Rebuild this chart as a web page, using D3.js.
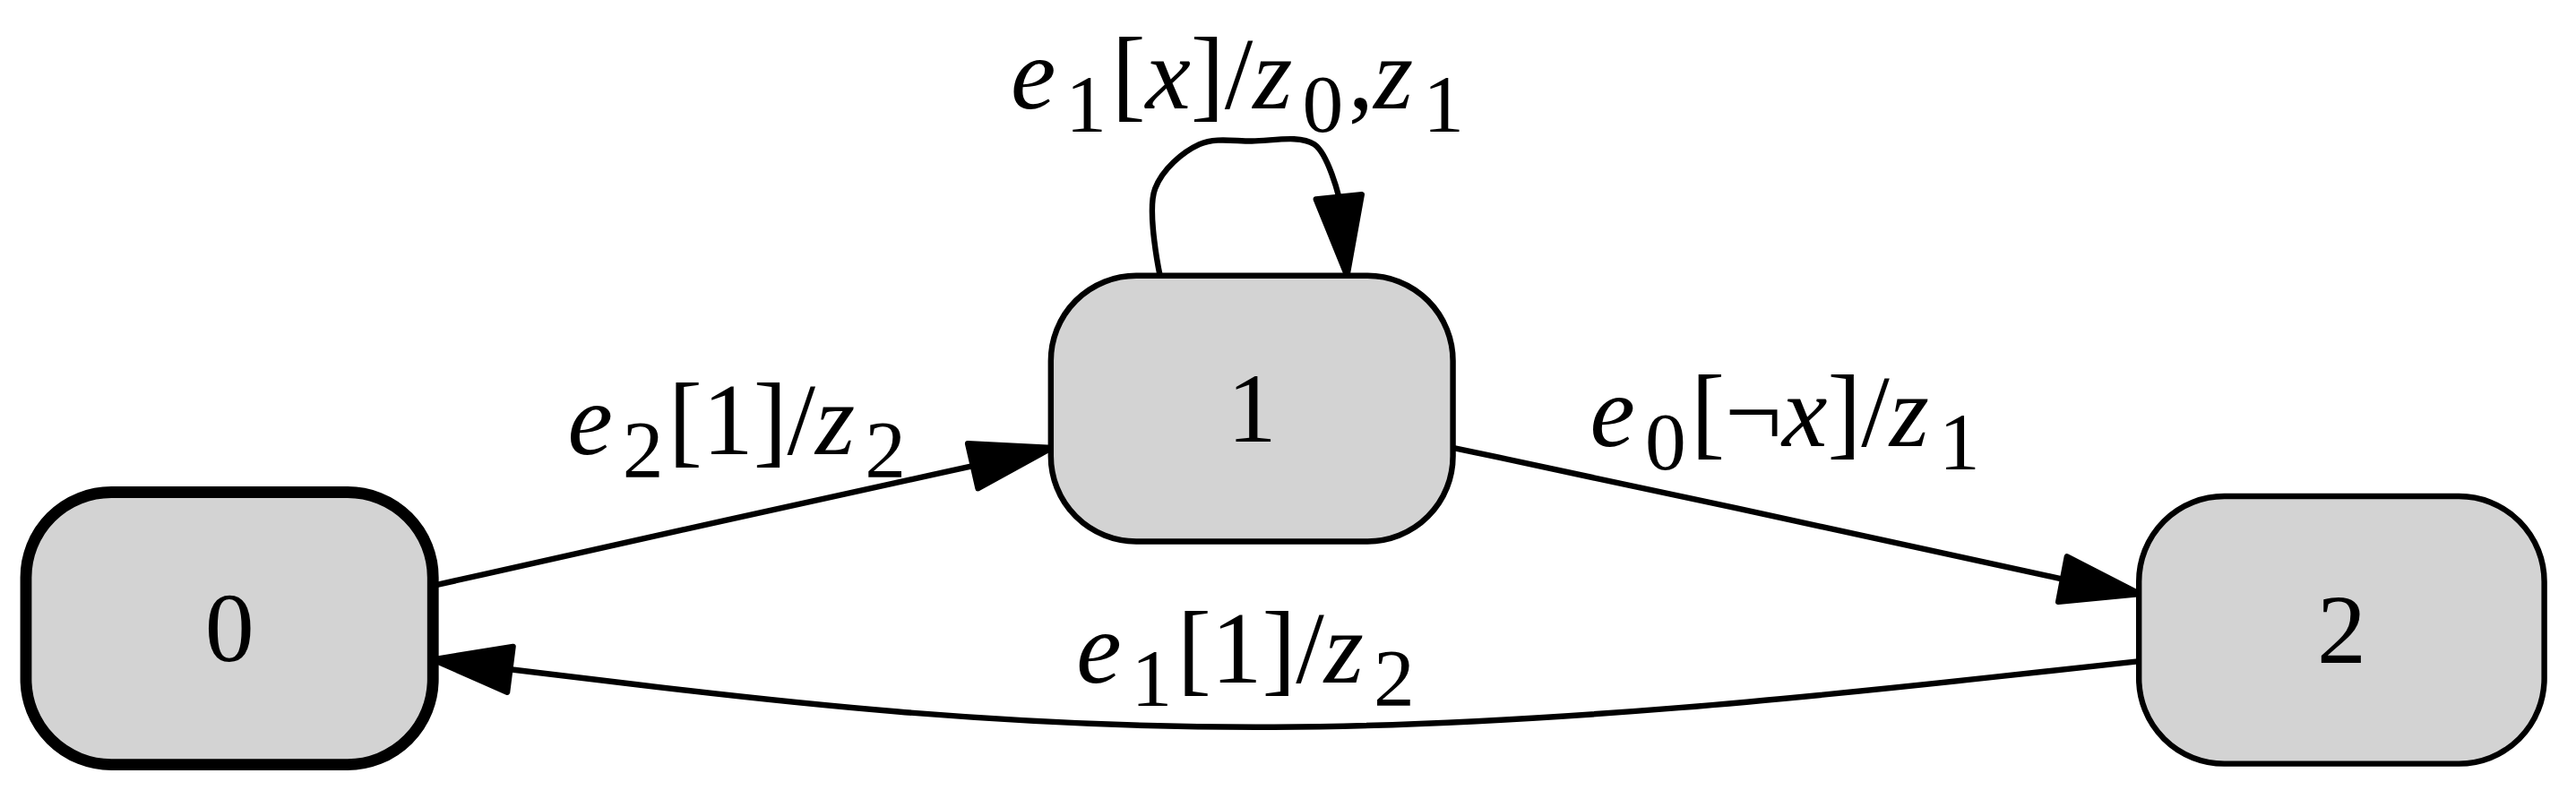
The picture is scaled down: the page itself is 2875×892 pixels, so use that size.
<!DOCTYPE html>
<html><head><meta charset="utf-8">
<script src="https://cdn.jsdelivr.net/npm/d3@7"></script>
<style>body{margin:0;background:#fff}</style></head>
<body><svg id="c"></svg>
<script>
const nodes = [
  {id:"0", cx:139, cy:383, w:248, h:166, bw:7},
  {id:"1", cx:762, cy:249, w:245, h:162, bw:3.5},
  {id:"2", cx:1426, cy:384, w:247, h:163, bw:3.5}
];
const edges = [
  {pts:[[263,357],[450,315],[592,284]], tip:[640,273], curve:"basis"},
  {pts:[[885,273],[1050,308],[1256,353]], tip:[1303,362], curve:"basis"},
  {pts:[[1303,403],[760,462],[310,408]], tip:[263,402], curve:"basis"},
  {pts:[[706,168],[703,115],[730,88],[762,86],[800,88],[815,120]], tip:[820,168], curve:"cr"}
];
const labels = [
  {x:345, y:277, parts:[["e",1,0],["2",0,1],["[1]/",0,0],["z",1,0],["2",0,1]]},
  {x:968, y:272, parts:[["e",1,0],["0",0,1],["[¬",0,0],["x",1,0],["]/",0,0],["z",1,0],["1",0,1]]},
  {x:655, y:416, parts:[["e",1,0],["1",0,1],["[1]/",0,0],["z",1,0],["2",0,1]]},
  {x:615, y:66, parts:[["e",1,0],["1",0,1],["[",0,0],["x",1,0],["]/",0,0],["z",1,0],["0",0,1],[",",0,0],["z",1,0],["1",0,1]]}
];
const FONT="'Liberation Serif', 'Times New Roman', serif";
const W=2875,H=892,VW=1568,VH=487;
const svg=d3.select("#c").attr("width",W).attr("height",H).attr("viewBox",`0 0 ${VW} ${VH}`);
const g=svg.append("g");
edges.forEach(e=>{
  const line=d3.line().curve(e.curve==="cr"?d3.curveCatmullRom:d3.curveBasis);
  g.append("path").attr("d",line(e.pts)).attr("fill","none").attr("stroke","#000").attr("stroke-width",3.5);
  const base=e.pts[e.pts.length-1], t=e.tip;
  const dx=t[0]-base[0], dy=t[1]-base[1], L=Math.hypot(dx,dy);
  const nx=-dy/L*14, ny=dx/L*14;
  g.append("path").attr("d",`M${base[0]+nx},${base[1]+ny}L${t[0]},${t[1]}L${base[0]-nx},${base[1]-ny}Z`)
   .attr("fill","#000").attr("stroke","#000").attr("stroke-width",3.5).attr("stroke-linejoin","round");
});
const ng=g.selectAll(".n").data(nodes).join("g");
ng.append("rect").attr("x",d=>d.cx-d.w/2).attr("y",d=>d.cy-d.h/2).attr("width",d=>d.w).attr("height",d=>d.h)
  .attr("rx",52).attr("ry",52).attr("fill","#d3d3d3").attr("stroke","#000").attr("stroke-width",d=>d.bw);
ng.append("text").attr("x",d=>d.cx).attr("y",d=>d.cy+20).attr("text-anchor","middle")
  .attr("font-family",FONT).attr("font-size",60).text(d=>d.id);
labels.forEach(l=>{
  const t=g.append("text").attr("x",l.x).attr("y",l.y).attr("font-family",FONT).attr("font-size",62);
  let prevSub=false;
  l.parts.forEach(p=>{
    const ts=t.append("tspan").text(p[0]).attr("font-style",p[1]?"italic":"normal");
    if(p[2]){ts.attr("font-size",50).attr("dy",14).attr("dx",6);prevSub=true;}
    else if(prevSub){ts.attr("dy",-14).attr("dx",3);prevSub=false;}
  });
});
</script></body></html>
